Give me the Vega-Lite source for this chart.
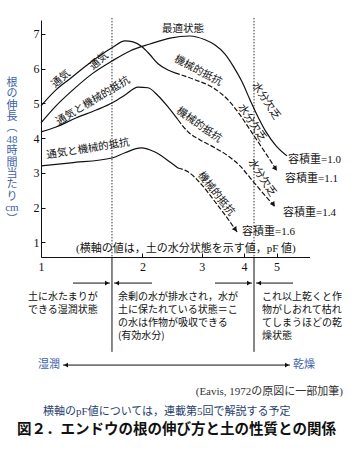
{
  "$schema": "https://vega.github.io/schema/vega-lite/v6.json",
  "width": 316,
  "height": 456,
  "autosize": {"type": "none"},
  "padding": {"left": 41, "top": 0, "right": 0, "bottom": 0},
  "background": "white",
  "config": {"view": {"stroke": null}},
  "layer": [
    {
      "data": {"values": [{"pF": 1.624, "v": 7.46, "v2": 0.58}, {"pF": 4.286, "v": 7.46, "v2": 0.58}]},
      "mark": {"type": "rule", "color": "#333", "strokeWidth": 1, "strokeDash": [1.5, 1.5]},
      "encoding": {
        "x": {"field": "pF", "type": "quantitative",
          "scale": {"type": "log", "domain": [1, 6.262], "range": [0, 268.5], "nice": false},
          "axis": {"orient": "bottom", "offset": -199, "values": [1, 2, 3, 4, 5], "format": "d", "title": null,
            "grid": false, "domainColor": "#111", "domainWidth": 1, "tickColor": "#111", "tickSize": -4,
            "labelFont": "Liberation Serif", "labelFontSize": 12, "labelColor": "#111", "labelPadding": 8,
            "labelFlush": false, "labelOverlap": false}},
        "y": {"field": "v", "type": "quantitative",
          "scale": {"domain": [0.58, 7.4], "range": [257, 20], "nice": false, "zero": false},
          "axis": {"values": [1, 2, 3, 4, 5, 6, 7], "format": "d", "title": null, "grid": false,
            "domainColor": "#111", "domainWidth": 1,
            "tickColor": "#111", "tickSize": -4, "labelFont": "Liberation Serif", "labelFontSize": 12,
            "labelColor": "#111", "labelPadding": 6}},
        "y2": {"field": "v2"}
      }
    },
    {
      "data": {"values": [{"pF": 0.820, "v": 5.763, "t": "根\nの\n伸\n長\n︵\n48\n時\n間\n当\nた\nり\ncm\n︶"}]},
      "mark": {"type": "text", "align": "center", "baseline": "top", "lineBreak": "\n", "lineHeight": 11.4,
        "font": "Liberation Serif, Noto Sans CJK JP", "fontSize": 11, "color": "#3d5fa6"},
      "encoding": {"x": {"field": "pF", "type": "quantitative"}, "y": {"field": "v", "type": "quantitative"}, "text": {"field": "t"}}
    },
    {
      "data": {"values": [{"pF": 1.624, "v": 0.58, "v2": -2.15}, {"pF": 4.286, "v": 0.58, "v2": -2.15}]},
      "mark": {"type": "rule", "color": "#111", "strokeWidth": 1},
      "encoding": {"x": {"field": "pF", "type": "quantitative"}, "y": {"field": "v", "type": "quantitative"}, "y2": {"field": "v2"}}
    },
    {
      "data": {"values": [
        {"c": "1.1", "pF": 1.000, "v": 4.93}, {"c": "1.1", "pF": 1.108, "v": 5.39}, {"c": "1.1", "pF": 1.219, "v": 5.71},
        {"c": "1.1", "pF": 1.398, "v": 6.17}, {"c": "1.1", "pF": 1.624, "v": 6.60}, {"c": "1.1", "pF": 1.775, "v": 6.80},
        {"c": "1.1", "pF": 1.875, "v": 6.77}, {"c": "1.1", "pF": 1.994, "v": 6.63}, {"c": "1.1", "pF": 2.106, "v": 6.40},
        {"c": "1.1", "pF": 2.225, "v": 6.14}, {"c": "1.1", "pF": 2.381, "v": 5.96}, {"c": "1.1", "pF": 2.498, "v": 5.88},
        {"c": "1.0", "pF": 1.000, "v": 4.44}, {"c": "1.0", "pF": 1.108, "v": 4.93}, {"c": "1.0", "pF": 1.244, "v": 5.39},
        {"c": "1.0", "pF": 1.417, "v": 5.85}, {"c": "1.0", "pF": 1.624, "v": 6.22}, {"c": "1.0", "pF": 1.837, "v": 6.51},
        {"c": "1.0", "pF": 2.106, "v": 6.71}, {"c": "1.0", "pF": 2.414, "v": 6.88}, {"c": "1.0", "pF": 2.768, "v": 6.94},
        {"c": "1.0", "pF": 3.067, "v": 6.83}, {"c": "1.0", "pF": 3.284, "v": 6.68}, {"c": "1.0", "pF": 3.516, "v": 6.42},
        {"c": "1.0", "pF": 3.714, "v": 6.08}, {"c": "1.0", "pF": 3.949, "v": 5.62}, {"c": "1.0", "pF": 4.172, "v": 5.10},
        {"c": "1.0", "pF": 4.405, "v": 4.61}, {"c": "1.0", "pF": 4.654, "v": 4.18}, {"c": "1.0", "pF": 4.983, "v": 3.78},
        {"c": "1.0", "pF": 5.370, "v": 3.49},
        {"c": "1.4", "pF": 1.000, "v": 4.18}, {"c": "1.4", "pF": 1.108, "v": 4.32}, {"c": "1.4", "pF": 1.270, "v": 4.58},
        {"c": "1.4", "pF": 1.457, "v": 4.81}, {"c": "1.4", "pF": 1.624, "v": 5.01}, {"c": "1.4", "pF": 1.775, "v": 5.24},
        {"c": "1.4", "pF": 1.940, "v": 5.47}, {"c": "1.4", "pF": 2.077, "v": 5.45}, {"c": "1.4", "pF": 2.225, "v": 5.22},
        {"c": "1.4", "pF": 2.381, "v": 4.90}, {"c": "1.4", "pF": 2.550, "v": 4.53},
        {"c": "1.6", "pF": 1.000, "v": 3.20}, {"c": "1.6", "pF": 1.228, "v": 3.29}, {"c": "1.6", "pF": 1.624, "v": 3.43},
        {"c": "1.6", "pF": 1.775, "v": 3.58}, {"c": "1.6", "pF": 1.980, "v": 3.72}, {"c": "1.6", "pF": 2.179, "v": 3.60},
        {"c": "1.6", "pF": 2.431, "v": 3.29}, {"c": "1.6", "pF": 2.550, "v": 3.14}
      ]},
      "mark": {"type": "line", "color": "#111", "strokeWidth": 1.2, "interpolate": "monotone"},
      "encoding": {"x": {"field": "pF", "type": "quantitative"}, "y": {"field": "v", "type": "quantitative"}, "detail": {"field": "c"}}
    },
    {
      "data": {"values": [
        {"c": "1.1", "pF": 2.498, "v": 5.88}, {"c": "1.1", "pF": 2.864, "v": 5.68}, {"c": "1.1", "pF": 3.240, "v": 5.45},
        {"c": "1.1", "pF": 3.589, "v": 5.10}, {"c": "1.1", "pF": 3.896, "v": 4.67}, {"c": "1.1", "pF": 4.172, "v": 4.24},
        {"c": "1.1", "pF": 4.466, "v": 3.81}, {"c": "1.1", "pF": 4.783, "v": 3.37}, {"c": "1.1", "pF": 5.017, "v": 3.06},
        {"c": "1.4", "pF": 2.550, "v": 4.53}, {"c": "1.4", "pF": 2.731, "v": 4.18}, {"c": "1.4", "pF": 2.964, "v": 3.95},
        {"c": "1.4", "pF": 3.284, "v": 3.72}, {"c": "1.4", "pF": 3.589, "v": 3.49}, {"c": "1.4", "pF": 3.896, "v": 3.20},
        {"c": "1.4", "pF": 4.172, "v": 2.86}, {"c": "1.4", "pF": 4.528, "v": 2.45}, {"c": "1.4", "pF": 4.949, "v": 2.02},
        {"c": "1.6", "pF": 2.550, "v": 3.14}, {"c": "1.6", "pF": 2.731, "v": 3.03}, {"c": "1.6", "pF": 3.005, "v": 2.65},
        {"c": "1.6", "pF": 3.284, "v": 2.17}, {"c": "1.6", "pF": 3.516, "v": 1.79}, {"c": "1.6", "pF": 3.817, "v": 1.30}
      ]},
      "mark": {"type": "line", "color": "#111", "strokeWidth": 1.2, "interpolate": "monotone", "strokeDash": [5, 2]},
      "encoding": {"x": {"field": "pF", "type": "quantitative"}, "y": {"field": "v", "type": "quantitative"}, "detail": {"field": "c"}}
    },
    {
      "data": {"values": [{"pF": 4.949, "v": 3.14}, {"pF": 4.880, "v": 2.11}, {"pF": 3.764, "v": 1.39}]},
      "mark": {"type": "point", "shape": "triangle", "angle": 145, "filled": true, "color": "#111", "size": 30, "opacity": 1},
      "encoding": {"x": {"field": "pF", "type": "quantitative"}, "y": {"field": "v", "type": "quantitative"}}
    },
    {
      "data": {"values": [{"pF": 1.146, "v": 5.705, "t": "通気"}, {"pF": 1.486, "v": 6.22, "t": "通気"}]},
      "mark": {"type": "text", "angle": -41, "font": "Noto Sans CJK JP", "fontSize": 10.5, "color": "#111"},
      "encoding": {"x": {"field": "pF", "type": "quantitative"}, "y": {"field": "v", "type": "quantitative"}, "text": {"field": "t"}}
    },
    {
      "data": {"values": [{"pF": 1.427, "v": 5.07, "t": "通気と機械的抵抗"}]},
      "mark": {"type": "text", "angle": -31, "font": "Noto Sans CJK JP", "fontSize": 10.5, "color": "#111"},
      "encoding": {"x": {"field": "pF", "type": "quantitative"}, "y": {"field": "v", "type": "quantitative"}, "text": {"field": "t"}}
    },
    {
      "data": {"values": [{"pF": 1.379, "v": 3.69, "t": "通気と機械的抵抗"}]},
      "mark": {"type": "text", "angle": -9, "font": "Noto Sans CJK JP", "fontSize": 10.5, "color": "#111"},
      "encoding": {"x": {"field": "pF", "type": "quantitative"}, "y": {"field": "v", "type": "quantitative"}, "text": {"field": "t"}}
    },
    {
      "data": {"values": [{"pF": 2.639, "v": 7.13, "t": "最適状態"}]},
      "mark": {"type": "text", "font": "Noto Sans CJK JP", "fontSize": 10.5, "color": "#111"},
      "encoding": {"x": {"field": "pF", "type": "quantitative"}, "y": {"field": "v", "type": "quantitative"}, "text": {"field": "t"}}
    },
    {
      "data": {"values": [{"pF": 2.924, "v": 5.94, "t": "機械的抵抗"}]},
      "mark": {"type": "text", "angle": 28, "font": "Noto Sans CJK JP", "fontSize": 10.5, "color": "#111"},
      "encoding": {"x": {"field": "pF", "type": "quantitative"}, "y": {"field": "v", "type": "quantitative"}, "text": {"field": "t"}}
    },
    {
      "data": {"values": [{"pF": 2.944, "v": 4.38, "t": "機械的抵抗"}]},
      "mark": {"type": "text", "angle": 35, "font": "Noto Sans CJK JP", "fontSize": 10.5, "color": "#111"},
      "encoding": {"x": {"field": "pF", "type": "quantitative"}, "y": {"field": "v", "type": "quantitative"}, "text": {"field": "t"}}
    },
    {
      "data": {"values": [{"pF": 3.307, "v": 2.40, "t": "機械的抵抗"}]},
      "mark": {"type": "text", "angle": 52, "font": "Noto Sans CJK JP", "fontSize": 10.5, "color": "#111"},
      "encoding": {"x": {"field": "pF", "type": "quantitative"}, "y": {"field": "v", "type": "quantitative"}, "text": {"field": "t"}}
    },
    {
      "data": {"values": [{"pF": 4.654, "v": 5.07, "t": "水分欠乏"}, {"pF": 4.229, "v": 4.44, "t": "水分欠乏"}, {"pF": 4.528, "v": 2.86, "t": "水分欠乏"}]},
      "mark": {"type": "text", "angle": 57, "font": "Noto Sans CJK JP", "fontSize": 10.5, "color": "#111"},
      "encoding": {"x": {"field": "pF", "type": "quantitative"}, "y": {"field": "v", "type": "quantitative"}, "text": {"field": "t"}}
    },
    {
      "data": {"values": [
        {"pF": 5.407, "v": 3.37, "t": "容積重=1.0"}, {"pF": 5.299, "v": 2.83, "t": "容積重=1.1"},
        {"pF": 5.227, "v": 1.85, "t": "容積重=1.4"}, {"pF": 3.949, "v": 1.30, "t": "容積重=1.6"},
        {"pF": 1.270, "v": 0.81, "t": "(横軸の値は，土の水分状態を示す値，pF 値)"}
      ]},
      "mark": {"type": "text", "align": "left", "baseline": "middle", "font": "Liberation Serif, Noto Sans CJK JP", "fontSize": 11, "color": "#111"},
      "encoding": {"x": {"field": "pF", "type": "quantitative"}, "y": {"field": "v", "type": "quantitative"}, "text": {"field": "t"}}
    },
    {
      "data": {"values": [
        {"pF": 0.915, "v": -0.439, "t": "土に水たまりが\nできる湿潤状態"},
        {"pF": 1.692, "v": -0.439, "t": "余剰の水が排水され，水が\n土に保たれている状態＝こ\nの水は作物が吸収できる\n(有効水分)"},
        {"pF": 4.528, "v": -0.439, "t": "これ以上乾くと作\n物がしおれて枯れ\nてしまうほどの乾\n燥状態"}
      ]},
      "mark": {"type": "text", "align": "left", "baseline": "top", "lineBreak": "\n", "lineHeight": 13, "font": "Noto Sans CJK JP", "fontSize": 10, "color": "#111"},
      "encoding": {"x": {"field": "pF", "type": "quantitative"}, "y": {"field": "v", "type": "quantitative"}, "text": {"field": "t"}}
    },
    {
      "data": {"values": [
        {"pF": 1.244, "p2": 1.602, "v": -0.17}, {"pF": 1.647, "p2": 2.135, "v": -0.17},
        {"pF": 3.284, "p2": 4.229, "v": -0.17}, {"pF": 4.345, "p2": 5.595, "v": -0.17},
        {"pF": 1.162, "p2": 5.481, "v": -2.53}
      ]},
      "mark": {"type": "rule", "color": "#111", "strokeWidth": 1},
      "encoding": {"x": {"field": "pF", "type": "quantitative"}, "x2": {"field": "p2"}, "y": {"field": "v", "type": "quantitative"}}
    },
    {
      "data": {"values": [{"pF": 1.570, "v": -0.17}, {"pF": 4.143, "v": -0.17}, {"pF": 5.370, "v": -2.53}]},
      "mark": {"type": "point", "shape": "triangle-right", "filled": true, "color": "#111", "size": 22, "opacity": 1},
      "encoding": {"x": {"field": "pF", "type": "quantitative"}, "y": {"field": "v", "type": "quantitative"}}
    },
    {
      "data": {"values": [{"pF": 1.681, "v": -0.17}, {"pF": 4.436, "v": -0.17}, {"pF": 1.186, "v": -2.53}]},
      "mark": {"type": "point", "shape": "triangle-left", "filled": true, "color": "#111", "size": 22, "opacity": 1},
      "encoding": {"x": {"field": "pF", "type": "quantitative"}, "y": {"field": "v", "type": "quantitative"}}
    },
    {
      "data": {"values": [{"pF": 1.139, "v": -2.53, "t": "湿潤"}]},
      "mark": {"type": "text", "align": "right", "baseline": "middle", "font": "Noto Sans CJK JP", "fontSize": 11, "color": "#3d5fa6"},
      "encoding": {"x": {"field": "pF", "type": "quantitative"}, "y": {"field": "v", "type": "quantitative"}, "text": {"field": "t"}}
    },
    {
      "data": {"values": [{"pF": 5.595, "v": -2.53, "t": "乾燥"}]},
      "mark": {"type": "text", "align": "left", "baseline": "middle", "font": "Noto Sans CJK JP", "fontSize": 11, "color": "#3d5fa6"},
      "encoding": {"x": {"field": "pF", "type": "quantitative"}, "y": {"field": "v", "type": "quantitative"}, "text": {"field": "t"}}
    },
    {
      "data": {"values": [{"pF": 7.872, "v": -3.30, "t": "(Eavis, 1972の原図に一部加筆)"}]},
      "mark": {"type": "text", "align": "right", "baseline": "middle", "font": "Liberation Serif, Noto Sans CJK JP", "fontSize": 11, "color": "#333"},
      "encoding": {"x": {"field": "pF", "type": "quantitative"}, "y": {"field": "v", "type": "quantitative"}, "text": {"field": "t"}}
    },
    {
      "data": {"values": [{"pF": 1.014, "v": -3.88, "t": "横軸のpF値については，連載第5回で解説する予定"}]},
      "mark": {"type": "text", "align": "left", "baseline": "middle", "font": "Liberation Serif, Noto Sans CJK JP", "fontSize": 11, "color": "#2a3f6e"},
      "encoding": {"x": {"field": "pF", "type": "quantitative"}, "y": {"field": "v", "type": "quantitative"}, "text": {"field": "t"}}
    },
    {
      "data": {"values": [{"pF": 0.849, "v": -4.40, "t": "図２．エンドウの根の伸び方と土の性質との関係"}]},
      "mark": {"type": "text", "align": "left", "baseline": "middle", "font": "Noto Sans CJK JP", "fontSize": 14.5, "fontWeight": "bold", "color": "#111"},
      "encoding": {"x": {"field": "pF", "type": "quantitative"}, "y": {"field": "v", "type": "quantitative"}, "text": {"field": "t"}}
    }
  ]
}
